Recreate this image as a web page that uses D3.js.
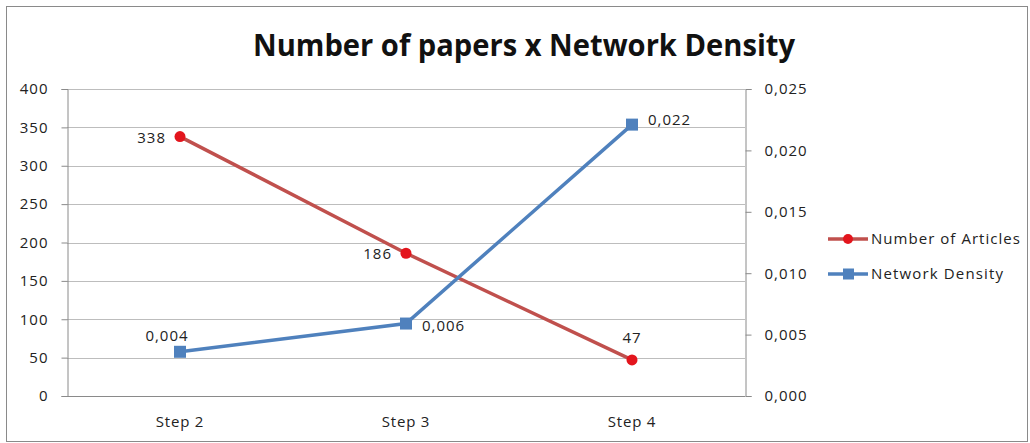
<!DOCTYPE html>
<html><head><meta charset="utf-8">
<script src="https://cdn.jsdelivr.net/npm/d3@7"></script>
<style>body{margin:0;background:#fff}svg{display:block}text{font-family:"Open Sans","DejaVu Sans",sans-serif}</style>
</head><body><svg id="c" width="1030" height="443"></svg>
<script>
const categories = ["Step 2", "Step 3", "Step 4"];
const articles = [338, 186, 47];
const density = [0.0036, 0.0059, 0.0221];
const leftTicks = [0, 50, 100, 150, 200, 250, 300, 350, 400];
const rightTicks = [0, 0.005, 0.010, 0.015, 0.020, 0.025];
const seriesNames = ["Number of Articles", "Network Density"];

const svg = d3.select("#c");
const L = 67, R = 745, T = 89, B = 396;
const x = d3.scaleBand().domain(categories).range([L, R]);
const yL = d3.scaleLinear().domain([0, 400]).range([B, T]);
const yR = d3.scaleLinear().domain([0, 0.025]).range([B, T]);
const cx = c => x(c) + x.bandwidth() / 2;
const fmtD = v => d3.format(".3f")(v).replace(".", ",");

// frame
svg.append("rect").attr("x", 6.5).attr("y", 6.5).attr("width", 1021).attr("height", 435)
  .attr("fill", "none").attr("stroke", "#8a8a8a").attr("stroke-width", 1);

// title
svg.append("text").attr("x", 524).attr("y", 56).attr("text-anchor", "middle")
  .attr("font-size", 30).attr("font-weight", "bold").attr("fill", "#111")
  .attr("textLength", 542).attr("lengthAdjust", "spacingAndGlyphs")
  .text("Number of papers x Network Density");

// gridlines
svg.append("g").selectAll("line").data(leftTicks.filter(d => d > 0)).join("line")
  .attr("x1", L).attr("x2", R).attr("y1", d => Math.round(yL(d)) + 0.5).attr("y2", d => Math.round(yL(d)) + 0.5)
  .attr("stroke", "#bdbdbd");

// axes
const axL = svg.append("g").attr("transform", `translate(${L + 0.5},0)`)
  .call(d3.axisLeft(yL).tickValues(leftTicks).tickSize(6).tickPadding(13));
const axR = svg.append("g").attr("transform", `translate(${R + 0.5},0)`)
  .call(d3.axisRight(yR).tickValues(rightTicks).tickSize(6).tickPadding(13).tickFormat(fmtD));
const axB = svg.append("g").attr("transform", `translate(0,${B + 0.5})`)
  .call(d3.axisBottom(x).tickSize(0).tickPadding(20));
[axL, axR, axB].forEach(a => {
  a.selectAll("path,line").attr("stroke", "#8a8a8a");
  a.selectAll("text").attr("font-size", 15).attr("fill", "#222").attr("letter-spacing", 1);
});
axB.select(".domain").attr("d", `M${L},0H${R}`);
axB.selectAll("text").attr("font-size", 15).attr("letter-spacing", 0.8);

// lines
const redLine = "#c0504d", redDot = "#e3151d", blue = "#4f81bd";
svg.append("path").datum(articles)
  .attr("d", d3.line().x((d, i) => cx(categories[i])).y(d => yL(d)))
  .attr("fill", "none").attr("stroke", redLine).attr("stroke-width", 3.5);
svg.append("path").datum(density)
  .attr("d", d3.line().x((d, i) => cx(categories[i])).y(d => yR(d)))
  .attr("fill", "none").attr("stroke", blue).attr("stroke-width", 3.5);

svg.append("g").selectAll("circle").data(articles).join("circle")
  .attr("cx", (d, i) => cx(categories[i])).attr("cy", d => yL(d)).attr("r", 5.5).attr("fill", redDot);
svg.append("g").selectAll("rect").data(density).join("rect")
  .attr("x", (d, i) => cx(categories[i]) - 6).attr("y", d => yR(d) - 6)
  .attr("width", 12).attr("height", 12).attr("fill", blue);

// data labels
const artPos = [["end", -14, 6], ["end", -14, 6], ["middle", 0, -17]];
svg.append("g").selectAll("text").data(articles).join("text")
  .attr("x", (d, i) => cx(categories[i]) + artPos[i][1]).attr("y", (d, i) => yL(d) + artPos[i][2])
  .attr("text-anchor", (d, i) => artPos[i][0]).attr("font-size", 15).attr("letter-spacing", 1)
  .attr("fill", "#222").text(d => d);
const denPos = [["middle", -13, -11], ["start", 16, 7], ["start", 16, 0]];
svg.append("g").selectAll("text").data(density).join("text")
  .attr("x", (d, i) => cx(categories[i]) + denPos[i][1]).attr("y", (d, i) => yR(d) + denPos[i][2])
  .attr("text-anchor", (d, i) => denPos[i][0]).attr("font-size", 15).attr("letter-spacing", 1)
  .attr("fill", "#222").text(d => fmtD(d));

// legend
const lg = svg.append("g");
const legY = [239, 274];
const legW = [149, 132];
[0, 1].forEach(i => {
  const col = i === 0 ? redLine : blue;
  lg.append("line").attr("x1", 828).attr("x2", 868).attr("y1", legY[i]).attr("y2", legY[i])
    .attr("stroke", col).attr("stroke-width", 3.5);
  if (i === 0) lg.append("circle").attr("cx", 848).attr("cy", legY[i]).attr("r", 5).attr("fill", redDot);
  else lg.append("rect").attr("x", 843).attr("y", legY[i] - 5.5).attr("width", 11).attr("height", 11).attr("fill", blue);
  lg.append("text").attr("x", 871).attr("y", legY[i] + 5).attr("font-size", 15).attr("fill", "#222")
    .attr("textLength", legW[i]).attr("lengthAdjust", "spacing")
    .text(seriesNames[i]);
});
</script></body></html>
